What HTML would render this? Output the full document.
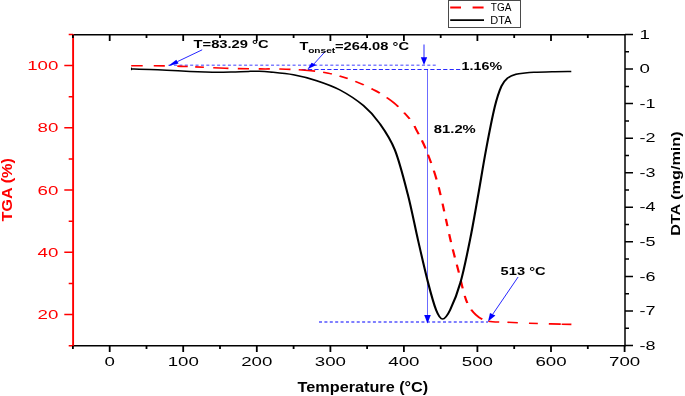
<!DOCTYPE html>
<html><head><meta charset="utf-8"><title>TGA / DTA</title>
<style>html,body{margin:0;padding:0;background:#fff}body{width:685px;height:396px;overflow:hidden}svg{display:block;will-change:transform}text{font-family:"Liberation Sans",sans-serif}</style></head><body>
<svg width="685" height="396" viewBox="0 0 685 396">
<rect width="685" height="396" fill="#fff"/>
<g stroke="#000" stroke-width="1.5" fill="none">
<path d="M73.1,34.7H625.0 M73.1,345.7H625.0"/>
<path d="M625.0,34.5h8.0M625.0,51.8h4.0M625.0,69.1h8.0M625.0,86.4h4.0M625.0,103.6h8.0M625.0,120.9h4.0M625.0,138.2h8.0M625.0,155.5h4.0M625.0,172.8h8.0M625.0,190.0h4.0M625.0,207.3h8.0M625.0,224.6h4.0M625.0,241.8h8.0M625.0,259.1h4.0M625.0,276.4h8.0M625.0,293.7h4.0M625.0,310.9h8.0M625.0,328.2h4.0M625.0,345.5h8.0"/>
</g>
<g stroke="#000" stroke-width="1.5" fill="none">
<path d="M625.0,34.0V346.4"/>
</g>
<path d="M73.1,34.0V346.4" stroke="#f00" stroke-width="1.9"/>
<path d="M73.1,345.7h-4.4M73.1,314.6h-8.8M73.1,283.4h-4.4M73.1,252.3h-8.8M73.1,221.2h-4.4M73.1,190.1h-8.8M73.1,159.0h-4.4M73.1,127.8h-8.8M73.1,96.7h-4.4M73.1,65.6h-8.8M73.1,34.5h-4.4" stroke="#f00" stroke-width="1.5" fill="none"/>
<path d="M72.9,345.7v3.3M72.9,34.7v3.3M109.7,345.7v6.2M109.7,34.7v6.2M146.5,345.7v3.3M146.5,34.7v3.3M183.2,345.7v6.2M183.2,34.7v6.2M220.0,345.7v3.3M220.0,34.7v3.3M256.8,345.7v6.2M256.8,34.7v6.2M293.6,345.7v3.3M293.6,34.7v3.3M330.4,345.7v6.2M330.4,34.7v6.2M367.1,345.7v3.3M367.1,34.7v3.3M403.9,345.7v6.2M403.9,34.7v6.2M440.7,345.7v3.3M440.7,34.7v3.3M477.4,345.7v6.2M477.4,34.7v6.2M514.2,345.7v3.3M514.2,34.7v3.3M551.0,345.7v6.2M551.0,34.7v6.2M587.8,345.7v3.3M587.8,34.7v3.3M624.6,345.7v6.2" stroke="#000" stroke-width="1.8" fill="none"/>
<text x="104.5" y="366.4" font-size="13.0" text-anchor="start" fill="#000" font-weight="normal" textLength="10.4" lengthAdjust="spacingAndGlyphs">0</text>
<text x="167.7" y="366.4" font-size="13.0" text-anchor="start" fill="#000" font-weight="normal" textLength="31.2" lengthAdjust="spacingAndGlyphs">100</text>
<text x="241.2" y="366.4" font-size="13.0" text-anchor="start" fill="#000" font-weight="normal" textLength="31.2" lengthAdjust="spacingAndGlyphs">200</text>
<text x="314.8" y="366.4" font-size="13.0" text-anchor="start" fill="#000" font-weight="normal" textLength="31.2" lengthAdjust="spacingAndGlyphs">300</text>
<text x="388.3" y="366.4" font-size="13.0" text-anchor="start" fill="#000" font-weight="normal" textLength="31.2" lengthAdjust="spacingAndGlyphs">400</text>
<text x="461.8" y="366.4" font-size="13.0" text-anchor="start" fill="#000" font-weight="normal" textLength="31.2" lengthAdjust="spacingAndGlyphs">500</text>
<text x="535.4" y="366.4" font-size="13.0" text-anchor="start" fill="#000" font-weight="normal" textLength="31.2" lengthAdjust="spacingAndGlyphs">600</text>
<text x="609.0" y="366.4" font-size="13.0" text-anchor="start" fill="#000" font-weight="normal" textLength="31.2" lengthAdjust="spacingAndGlyphs">700</text>
<text x="37.6" y="319.1" font-size="13.0" text-anchor="start" fill="#f00" font-weight="normal" textLength="20.8" lengthAdjust="spacingAndGlyphs">20</text>
<text x="37.6" y="256.9" font-size="13.0" text-anchor="start" fill="#f00" font-weight="normal" textLength="20.8" lengthAdjust="spacingAndGlyphs">40</text>
<text x="37.6" y="194.6" font-size="13.0" text-anchor="start" fill="#f00" font-weight="normal" textLength="20.8" lengthAdjust="spacingAndGlyphs">60</text>
<text x="37.6" y="132.4" font-size="13.0" text-anchor="start" fill="#f00" font-weight="normal" textLength="20.8" lengthAdjust="spacingAndGlyphs">80</text>
<text x="27.2" y="70.1" font-size="13.0" text-anchor="start" fill="#f00" font-weight="normal" textLength="31.2" lengthAdjust="spacingAndGlyphs">100</text>
<text x="639.6" y="38.7" font-size="13.0" text-anchor="start" fill="#000" font-weight="normal" textLength="10.4" lengthAdjust="spacingAndGlyphs">1</text>
<text x="639.6" y="73.2" font-size="13.0" text-anchor="start" fill="#000" font-weight="normal" textLength="10.4" lengthAdjust="spacingAndGlyphs">0</text>
<text x="639.6" y="107.8" font-size="13.0" text-anchor="start" fill="#000" font-weight="normal" textLength="16.0" lengthAdjust="spacingAndGlyphs">-1</text>
<text x="639.6" y="142.3" font-size="13.0" text-anchor="start" fill="#000" font-weight="normal" textLength="16.0" lengthAdjust="spacingAndGlyphs">-2</text>
<text x="639.6" y="176.9" font-size="13.0" text-anchor="start" fill="#000" font-weight="normal" textLength="16.0" lengthAdjust="spacingAndGlyphs">-3</text>
<text x="639.6" y="211.4" font-size="13.0" text-anchor="start" fill="#000" font-weight="normal" textLength="16.0" lengthAdjust="spacingAndGlyphs">-4</text>
<text x="639.6" y="246.0" font-size="13.0" text-anchor="start" fill="#000" font-weight="normal" textLength="16.0" lengthAdjust="spacingAndGlyphs">-5</text>
<text x="639.6" y="280.5" font-size="13.0" text-anchor="start" fill="#000" font-weight="normal" textLength="16.0" lengthAdjust="spacingAndGlyphs">-6</text>
<text x="639.6" y="315.1" font-size="13.0" text-anchor="start" fill="#000" font-weight="normal" textLength="16.0" lengthAdjust="spacingAndGlyphs">-7</text>
<text x="639.6" y="349.6" font-size="13.0" text-anchor="start" fill="#000" font-weight="normal" textLength="16.0" lengthAdjust="spacingAndGlyphs">-8</text>
<text x="297.6" y="391.7" font-size="14.2" text-anchor="start" fill="#000" font-weight="bold" textLength="130.6" lengthAdjust="spacingAndGlyphs">Temperature (°C)</text>
<g transform="translate(11.8,221.6) rotate(-90)"><text x="0.0" y="0.0" font-size="14.0" text-anchor="start" fill="#f00" font-weight="bold" textLength="63.6" lengthAdjust="spacingAndGlyphs">TGA (%)</text></g>
<g transform="translate(679.6,235.8) rotate(-90)"><text x="0.0" y="0.0" font-size="13.4" text-anchor="start" fill="#000" font-weight="bold" textLength="104.4" lengthAdjust="spacingAndGlyphs">DTA (mg/min)</text></g>
<rect x="448.5" y="0.5" width="72" height="27" fill="#fff" stroke="#4a4a4a" stroke-width="1"/>
<path d="M450.2,7.5h10.8M472.6,7.5h11" stroke="#f00" stroke-width="1.8"/>
<path d="M450.2,20.1h33.8" stroke="#000" stroke-width="1.8"/>
<text x="490.8" y="10.8" font-size="10.0" text-anchor="start" fill="#000" font-weight="normal">TGA</text>
<text x="490.3" y="23.7" font-size="10.0" text-anchor="start" fill="#000" font-weight="normal" textLength="21.2" lengthAdjust="spacingAndGlyphs">DTA</text>
<g transform="scale(1.400,1)">
<g stroke="#0000ff" fill="none" stroke-width="0.70">
<path d="M120.43,65.10 H312.50" stroke-dasharray="2.15,1.7" stroke-width="0.85"/>
<path d="M215.36,69.50 H330.00" stroke-dasharray="3.0,1.6"/>
<path d="M227.86,322.00 H348.57" stroke-dasharray="2.15,1.7" stroke-width="0.95"/>
<path d="M305.36,69.50 V316" stroke-width="0.486"/>
<path d="M302.86,44.50 V60" stroke-width="0.714"/>
</g>
<path d="M93.71,65.80 C98.10,65.82 113.00,65.77 120.00,65.90 C127.00,66.03 128.93,66.20 135.71,66.60 C142.50,67.00 152.38,67.92 160.71,68.30 C169.05,68.68 179.25,68.78 185.71,68.90 C192.18,69.02 194.14,68.78 199.50,69.00 C204.86,69.22 212.01,69.50 217.86,70.20 C223.70,70.90 229.00,71.57 234.57,73.20 C240.14,74.83 245.73,77.12 251.29,80.00 C256.85,82.88 262.93,86.70 267.93,90.50 C272.93,94.30 277.11,97.97 281.29,102.80 C285.46,107.63 290.23,114.75 293.00,119.50 C295.77,124.25 296.00,126.13 297.93,131.30 C299.86,136.47 302.07,141.55 304.57,150.50 C307.07,159.45 310.06,170.08 312.93,185.00 C315.80,199.92 319.38,225.77 321.79,240.00 C324.19,254.23 325.46,260.28 327.36,270.40 C329.25,280.52 331.06,293.30 333.14,300.70 C335.23,308.10 337.35,311.42 339.86,314.80 C342.37,318.18 344.62,319.77 348.21,321.00 C351.81,322.23 355.18,321.77 361.43,322.20 C367.68,322.63 377.93,323.23 385.71,323.60 C393.50,323.97 404.40,324.27 408.14,324.40" fill="none" stroke="#f00" stroke-width="1.6" stroke-dasharray="0.00 0.00 8.40 7.65 7.92 8.92 7.68 5.28 6.17 6.59 11.02 6.65 7.88 6.92 8.01 6.78 8.05 5.75 11.89 5.87 6.48 5.79 6.39 6.14 6.97 6.49 7.51 6.70 12.46 7.05 7.42 8.06 8.94 6.39 8.56 6.34 8.67 8.01 9.02 7.86 7.88 8.75 7.62 7.64 7.39 8.17 8.02 7.37 8.23 7.43 8.14 8.24 7.45 7.65 7.36 7.32 12.65 4.73 7.81 5.91 7.43 7.77 6.37 8.06 8.31 0.59 7.27 50.00"/>
<path d="M93.71,69.00 C95.95,69.08 102.92,69.30 107.14,69.50 C111.37,69.70 114.31,69.88 119.07,70.20 C123.83,70.53 131.15,71.14 135.71,71.45 C140.27,71.76 143.10,71.91 146.43,72.05 C149.76,72.19 152.50,72.31 155.71,72.30 C158.93,72.29 162.08,72.15 165.71,72.00 C169.35,71.85 174.40,71.52 177.50,71.40 C180.60,71.28 181.73,71.20 184.29,71.30 C186.85,71.40 188.64,71.42 192.86,72.00 C197.07,72.58 204.01,73.35 209.57,74.80 C215.13,76.25 220.67,78.17 226.21,80.70 C231.76,83.23 237.30,85.85 242.86,90.00 C248.42,94.15 254.85,100.02 259.57,105.60 C264.30,111.18 267.46,116.10 271.21,123.50 C274.96,130.90 278.73,138.18 282.07,150.00 C285.42,161.82 288.54,179.40 291.29,194.40 C294.04,209.40 296.18,225.40 298.57,240.00 C300.96,254.60 303.49,270.33 305.64,282.00 C307.80,293.67 309.75,303.83 311.50,310.00 C313.25,316.17 314.48,319.00 316.14,319.00 C317.81,319.00 319.36,316.17 321.50,310.00 C323.64,303.83 326.63,293.67 329.00,282.00 C331.37,270.33 333.65,254.22 335.71,240.00 C337.77,225.78 339.45,211.70 341.36,196.70 C343.26,181.70 345.13,165.00 347.14,150.00 C349.15,135.00 351.60,117.33 353.43,106.70 C355.26,96.07 356.64,90.95 358.14,86.20 C359.64,81.45 360.69,80.18 362.43,78.20 C364.17,76.22 366.48,75.17 368.57,74.30 C370.67,73.42 372.87,73.29 375.00,72.95 C377.13,72.61 378.14,72.45 381.36,72.25 C384.57,72.05 389.83,71.88 394.29,71.75 C398.74,71.62 405.77,71.54 408.07,71.50" fill="none" stroke="#000" stroke-width="1.52" stroke-linejoin="round"/>
</g>
<path d="M202.20,49.80L177.45,61.60" stroke="#0000ff" stroke-width="0.85" fill="none"/><path d="M168.10,65.90L176.30,59.80L178.60,63.40Z" fill="#0000ff"/>
<path d="M325.60,51.10L313.95,63.95" stroke="#0000ff" stroke-width="0.85" fill="none"/><path d="M307.50,69.20L311.60,62.80L316.30,65.10Z" fill="#0000ff"/>
<path d="M518.10,277.00L492.70,314.30" stroke="#0000ff" stroke-width="0.85" fill="none"/><path d="M488.00,321.40L490.00,313.00L495.40,315.60Z" fill="#0000ff"/>
<path d="M424.00,64.90L420.80,57.20L427.20,57.20Z" fill="#0000ff"/>
<path d="M427.50,323.40L424.20,314.90L430.80,314.90Z" fill="#0000ff"/>
<path d="M131.5,67.6V70.2" stroke="#000" stroke-width="1.1"/>
<text x="193.6" y="48.1" font-size="10.4" text-anchor="start" fill="#000" font-weight="bold" textLength="75.0" lengthAdjust="spacingAndGlyphs">T=83.29 °C</text>
<text x="299.6" y="49.5" font-size="10.4" text-anchor="start" fill="#000" font-weight="bold" textLength="8.9" lengthAdjust="spacingAndGlyphs">T</text>
<text x="308.2" y="52.5" font-size="6.6" text-anchor="start" fill="#000" font-weight="bold" textLength="27.0" lengthAdjust="spacingAndGlyphs">onset</text>
<text x="335.0" y="49.5" font-size="10.4" text-anchor="start" fill="#000" font-weight="bold" textLength="74.0" lengthAdjust="spacingAndGlyphs">=264.08 °C</text>
<text x="461.6" y="69.7" font-size="10.4" text-anchor="start" fill="#000" font-weight="bold" textLength="40.5" lengthAdjust="spacingAndGlyphs">1.16%</text>
<text x="433.8" y="132.5" font-size="10.4" text-anchor="start" fill="#000" font-weight="bold" textLength="42.0" lengthAdjust="spacingAndGlyphs">81.2%</text>
<text x="500.6" y="274.8" font-size="10.4" text-anchor="start" fill="#000" font-weight="bold" textLength="45.0" lengthAdjust="spacingAndGlyphs">513 °C</text>
</svg></body></html>
